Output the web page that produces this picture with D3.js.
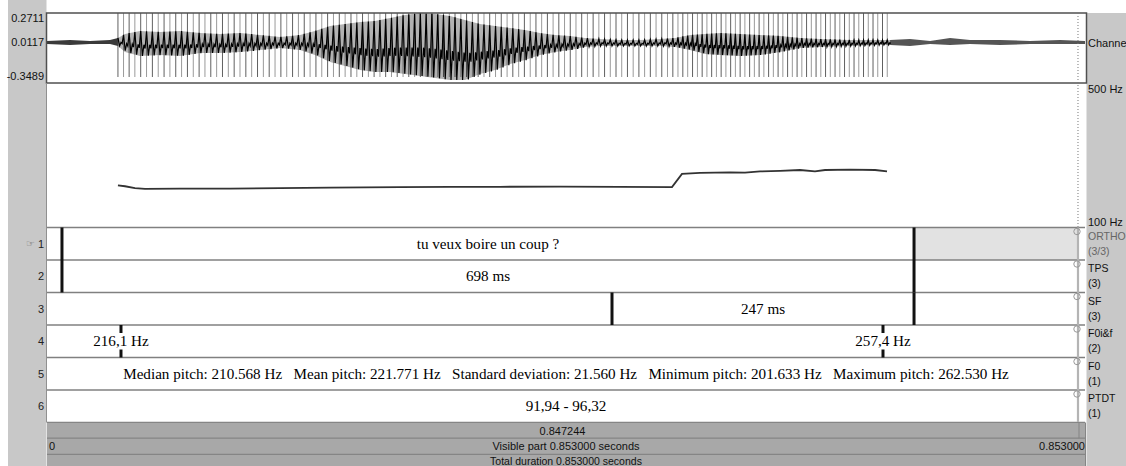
<!DOCTYPE html>
<html><head><meta charset="utf-8">
<script src="https://cdn.jsdelivr.net/npm/d3@7"></script>
<style>body{margin:0;background:#fff}svg{display:block}text{white-space:pre}</style>
</head><body><svg id="c" width="1126" height="466"></svg>
<script>
// ---------------- data ----------------
const duration = 0.853;
const cursorTime = 0.847244;
const ampTicks = [0.2711, 0.0117, -0.3489];
const ampTickLabels = ["0.2711", "0.0117", "-0.3489"];
const pitchRange = [100, 500];
const pitchTickLabels = ["500 Hz", "100 Hz"];
const channelLabel = "Channel 1";

// pitch contour (s, Hz)
const pitchTimes = [0.0583,0.0641,0.0723,0.0805,0.1093,0.1504,0.1915,0.2326,0.2901,0.3312,0.3723,0.4216,0.4709,0.5136,0.5218,0.5366,0.5613,0.5736,0.5860,0.6024,0.6188,0.6311,0.6394,0.6599,0.6805,0.6903];
const pitchHz    = [217.5,215.0,209.7,207.5,208.3,208.3,209.7,211.0,212.5,213.0,213.5,213.9,213.5,212.5,249.2,252.0,253.6,252.8,256.4,258.0,260.3,256.4,260.3,261.1,260.3,256.4];

// glottal pulses (ms)
const pulseMs = [58.3,62.9,67.5,72.2,77.0,81.8,86.6,91.4,96.2,101.0,105.8,110.6,115.4,120.2,125.0,129.8,134.6,139.4,144.2,149.0,153.8,158.6,163.4,168.2,173.0,177.8,182.6,187.4,192.2,197.0,201.8,206.6,211.4,216.2,221.0,225.8,230.6,235.4,240.2,245.0,249.8,
254.6,259.3,264.1,268.8,273.6,278.3,283.1,287.8,292.6,297.3,302.1,306.8,311.6,316.3,321.1,325.8,330.6,335.3,340.1,344.8,349.6,354.3,359.1,363.8,368.6,373.3,378.1,382.8,387.6,392.3,397.1,401.8,
406.5,411.2,415.9,420.6,425.3,430.0,434.7,439.4,444.1,448.8,453.5,458.2,462.9,467.6,472.3,477.0,481.7,486.4,491.1,495.8,500.5,505.2,509.9,514.3,518.5,522.5,
526.5,530.5,534.5,538.4,542.3,546.2,550.1,554.0,557.9,561.8,565.7,569.6,573.5,577.4,581.3,585.2,589.1,593.0,596.9,600.8,604.7,608.6,612.5,616.4,620.3,624.2,628.1,632.0,635.9,639.8,643.7,647.6,651.5,655.4,659.3,663.2,667.1,671.0,674.9,678.8,682.7,686.6,690.5];

// waveform envelope (s, max amplitude, min amplitude)
const envTimes = [0,0.0189,0.0353,0.0518,0.0583,0.0641,0.0764,0.0929,0.1093,0.1257,0.1422,0.1586,0.1750,0.1915,0.2079,0.2202,0.2326,0.2449,0.2572,0.2695,0.2819,0.2942,0.3065,0.3189,0.3312,0.3435,0.3558,0.3682,0.3805,0.3928,0.4051,0.4175,0.4298,0.4421,0.4545,0.4709,0.4873,0.5038,0.5161,0.5284,0.5407,0.5531,0.5695,0.5859,0.6024,0.6188,0.6353,0.6599,0.6846,0.6928,0.7092,0.7257,0.7421,0.7585,0.7832,0.8078,0.8325,0.853];
const envHigh = [0.0231,0.0320,0.0231,0.0320,0.0497,0.0851,0.1117,0.1028,0.1117,0.0940,0.0851,0.0940,0.0763,0.0585,0.0763,0.1117,0.1560,0.1737,0.1914,0.2002,0.2268,0.2534,0.2711,0.2622,0.2445,0.2091,0.1737,0.1560,0.1382,0.1205,0.0940,0.0763,0.0674,0.0497,0.0408,0.0320,0.0320,0.0408,0.0497,0.0763,0.0851,0.0940,0.0851,0.0763,0.0674,0.0497,0.0408,0.0320,0.0320,0.0320,0.0408,0.0231,0.0497,0.0320,0.0320,0.0231,0.0320,0.0231];
const envLow  = [-0.0034,-0.0123,-0.0034,-0.0034,-0.0211,-0.0743,-0.1097,-0.1009,-0.1097,-0.0832,-0.0832,-0.0743,-0.0566,-0.0389,-0.0566,-0.1009,-0.1629,-0.1983,-0.2337,-0.2515,-0.2515,-0.2692,-0.2869,-0.3046,-0.3223,-0.3223,-0.2692,-0.2337,-0.1806,-0.1452,-0.1009,-0.0743,-0.0566,-0.0300,-0.0211,-0.0211,-0.0211,-0.0211,-0.0300,-0.0566,-0.0920,-0.1009,-0.1097,-0.1009,-0.0743,-0.0389,-0.0300,-0.0211,-0.0123,-0.0123,-0.0211,-0.0034,-0.0123,-0.0034,-0.0123,-0.0034,-0.0034,-0.0034];

// tiers
const tierNames  = ["ORTHO", "TPS", "SF", "F0i&f", "F0", "PTDT"];
const tierCounts = ["(3/3)", "(3)", "(3)", "(2)", "(1)", "(1)"];
const orthoBounds = [0.0123, 0.7125];
const orthoTexts  = ["", "tu veux boire un coup ?", ""];
const tpsBounds   = [0.0123, 0.7125];
const tpsTexts    = ["", "698 ms", ""];
const sfBounds    = [0.4643, 0.7125];
const sfTexts     = ["", "247 ms", ""];
const f0ifPoints  = [0.0608, 0.6870];
const f0ifTexts   = ["216,1 Hz", "257,4 Hz"];
const f0Texts     = ["Median pitch: 210.568 Hz   Mean pitch: 221.771 Hz   Standard deviation: 21.560 Hz   Minimum pitch: 201.633 Hz   Maximum pitch: 262.530 Hz"];
const ptdtTexts   = ["91,94 - 96,32"];
const selectedInterval = [0.7125, cursorTime];

const barTexts = ["0.847244", "Visible part 0.853000 seconds", "Total duration 0.853000 seconds"];
const visibleStart = "0", visibleEnd = "0.853000";

// ---------------- layout ----------------
const svg = d3.select("#c");
const X0 = 47, X1 = 1085;
const WT = 13, WB = 83, PT = 84;
const TT = 227.5, TH = 32.5, NT = 6;
const tierTop = i => TT + i * TH;
const BARS = [422.5, 438.2, 454.3, 466];
const sans = "'Liberation Sans', Arial, sans-serif";
const serif = "'Liberation Serif', 'Times New Roman', serif";
const TFS = 15.15;

const x = d3.scaleLinear().domain([0, duration]).range([X0, X1]);
const yA = d3.scaleLinear().domain([ampTicks[2], ampTicks[0]]).range([WB, WT]);
const yP = d3.scaleLinear().domain(pitchRange).range([TT, PT]);
const envHiScale = d3.scaleLinear().domain(envTimes).range(envHigh);
const envLoScale = d3.scaleLinear().domain(envTimes).range(envLow);

// background / margins
svg.append("rect").attr("x",0).attr("y",0).attr("width",1126).attr("height",466).attr("fill","#fff");
svg.append("rect").attr("x",8).attr("y",0).attr("width",38.5).attr("height",466).attr("fill","#c8c8c8");
svg.append("rect").attr("x",1086.5).attr("y",WT).attr("width",40).attr("height",466-WT).attr("fill","#c8c8c8");

// ---- waveform panel ----
const pulses = pulseMs.map(d => d / 1000);
const firstP = pulses[0], lastP = pulses[pulses.length - 1];
svg.append("g").selectAll("line").data(pulses).join("line")
  .attr("x1", d => x(d)).attr("x2", d => x(d))
  .attr("y1", WT).attr("y2", 77)
  .attr("stroke", (d, i) => i % 2 ? "#9a9a9a" : "#606060").attr("stroke-width", 1);

const idx = d3.range(envTimes.length);
const area = d3.area()
  .x(i => x(envTimes[i]))
  .y0(i => yA(envLow[i]))
  .y1(i => yA(envHigh[i]));
// unvoiced stretches: thin noise band
svg.append("path").datum(idx.filter(i => envTimes[i] <= firstP + 0.001)).attr("d", area)
  .attr("fill", "#3a3a3a");
svg.append("path").datum(idx.filter(i => envTimes[i] >= lastP - 0.002)).attr("d", area)
  .attr("fill", "#555");
// voiced stretch: faint band
svg.append("path").datum(idx.filter(i => envTimes[i] >= firstP - 0.006 && envTimes[i] <= lastP + 0.003)).attr("d", area)
  .attr("fill", "#000").attr("fill-opacity", 0.3);

// waveform trace in the voiced part: a peak at each pulse, trough inside each period
const trace = [];
pulses.forEach((t, i) => {
  const next = i < pulses.length - 1 ? pulses[i + 1] : t + 0.0039;
  const p = next - t;
  const hi = envHiScale(t), lo = envLoScale(t);
  trace.push([t, hi]);
  trace.push([t + p * 0.3, lo]);
  trace.push([t + p * 0.55, hi * 0.45 + lo * 0.55]);
  trace.push([t + p * 0.75, lo * 0.7 + hi * 0.3]);
});
svg.append("path").datum(trace)
  .attr("d", d3.line().x(d => x(d[0])).y(d => yA(d[1])))
  .attr("fill", "none").attr("stroke", "#000").attr("stroke-width", 1.2);

svg.append("rect").attr("x", 46.5).attr("y", WT).attr("width", 1086.5-46.5).attr("height", WB-WT)
  .attr("fill", "none").attr("stroke", "#505050").attr("stroke-width", 1.5);

// amplitude labels
svg.append("g").selectAll("text").data(ampTicks).join("text")
  .attr("x", 44).attr("y", d => yA(d))
  .attr("dy", (d, i) => i === 0 ? "9" : (i === 2 ? "-3" : "4"))
  .attr("text-anchor", "end").attr("font-family", sans).attr("font-size", 11).attr("fill", "#111")
  .text((d, i) => ampTickLabels[i]);
svg.append("text").attr("x", 1088).attr("y", yA(ampTicks[1]) + 5)
  .attr("font-family", sans).attr("font-size", 11).attr("fill", "#111").text(channelLabel);

// ---- pitch panel ----
svg.append("path").datum(pitchTimes)
  .attr("d", d3.line().x((d, i) => x(pitchTimes[i])).y((d, i) => yP(pitchHz[i])))
  .attr("fill", "none").attr("stroke", "#333").attr("stroke-width", 1.8);
svg.append("text").attr("x", 1088).attr("y", yP(pitchRange[1]) + 9)
  .attr("font-family", sans).attr("font-size", 11).attr("fill", "#111").text(pitchTickLabels[0]);
svg.append("text").attr("x", 1088).attr("y", yP(pitchRange[0]) - 2)
  .attr("font-family", sans).attr("font-size", 11).attr("fill", "#111").text(pitchTickLabels[1]);

// cursor dotted line
svg.append("line").attr("x1", x(cursorTime)).attr("x2", x(cursorTime)).attr("y1", WT).attr("y2", TT)
  .attr("stroke", "#777").attr("stroke-dasharray", "1,2");

// ---- tiers ----
svg.append("rect").attr("x", x(selectedInterval[0])).attr("y", tierTop(0))
  .attr("width", x(selectedInterval[1]) - x(selectedInterval[0])).attr("height", TH)
  .attr("fill", "#e2e2e2");

const tiersG = svg.append("g");
d3.range(NT + 1).forEach(i => {
  tiersG.append("line").attr("x1", X0).attr("x2", X1).attr("y1", tierTop(i)).attr("y2", tierTop(i))
    .attr("stroke", "#808080").attr("stroke-width", 1.3);
});
svg.append("line").attr("x1", 46.5).attr("x2", 46.5).attr("y1", WB).attr("y2", BARS[0])
  .attr("stroke", "#909090").attr("stroke-width", 1);

// cursor bar in tiers
svg.append("line").attr("x1", x(cursorTime)).attr("x2", x(cursorTime)).attr("y1", TT).attr("y2", BARS[1])
  .attr("stroke", "#b4b4b4").attr("stroke-width", 2.2);

function intervalTier(i, bounds, texts) {
  const edges = [0, ...bounds, duration];
  const g = svg.append("g");
  g.selectAll("text").data(texts).join("text")
    .attr("x", (d, k) => (x(edges[k]) + x(edges[k + 1])) / 2)
    .attr("y", tierTop(i) + TH / 2 + 5)
    .attr("text-anchor", "middle").attr("font-family", serif).attr("font-size", TFS).attr("fill", "#000")
    .text(d => d);
}
function boundaries(bounds, fromTier, toTierList) {
  svg.append("g").selectAll("line").data(bounds).join("line")
    .attr("x1", d => x(d)).attr("x2", d => x(d))
    .attr("y1", tierTop(fromTier)).attr("y2", (d, k) => tierTop(toTierList[k]))
    .attr("stroke", "#111").attr("stroke-width", 3);
}
intervalTier(0, orthoBounds, orthoTexts);
intervalTier(1, tpsBounds, tpsTexts);
intervalTier(2, sfBounds, sfTexts);
intervalTier(4, [], f0Texts);
intervalTier(5, [], ptdtTexts);
boundaries(orthoBounds, 0, [1, 1]);
boundaries(tpsBounds, 1, [2, 2]);
boundaries(sfBounds, 2, [3, 3]);

// point tier
const pg = svg.append("g");
pg.selectAll("line.top").data(f0ifPoints).join("line").attr("class", "top")
  .attr("x1", d => x(d)).attr("x2", d => x(d)).attr("y1", tierTop(3)).attr("y2", tierTop(3) + 8)
  .attr("stroke", "#111").attr("stroke-width", 3);
pg.selectAll("line.bot").data(f0ifPoints).join("line").attr("class", "bot")
  .attr("x1", d => x(d)).attr("x2", d => x(d)).attr("y1", tierTop(4) - 8).attr("y2", tierTop(4))
  .attr("stroke", "#111").attr("stroke-width", 3);
pg.selectAll("text").data(f0ifPoints).join("text")
  .attr("x", d => x(d)).attr("y", tierTop(3) + TH / 2 + 5)
  .attr("text-anchor", "middle").attr("font-family", serif).attr("font-size", TFS).attr("fill", "#000")
  .text((d, k) => f0ifTexts[k]);

// tier circles and names
svg.append("g").selectAll("circle").data(tierNames).join("circle")
  .attr("cx", x(cursorTime) - 1).attr("cy", (d, i) => tierTop(i) + 4).attr("r", 3.2)
  .attr("fill", "none").attr("stroke", "#999").attr("stroke-width", 1);
svg.append("g").selectAll("text").data(tierNames).join("text")
  .attr("x", 1088).attr("y", (d, i) => tierTop(i) + 12)
  .attr("font-family", sans).attr("font-size", 10.5).attr("fill", (d, i) => i === 0 ? "#666" : "#111")
  .text(d => d);
svg.append("g").selectAll("text").data(tierCounts).join("text")
  .attr("x", 1088).attr("y", (d, i) => tierTop(i) + 27)
  .attr("font-family", sans).attr("font-size", 10.5).attr("fill", (d, i) => i === 0 ? "#666" : "#111")
  .text(d => d);
svg.append("g").selectAll("text").data(tierNames).join("text")
  .attr("x", 44).attr("y", (d, i) => tierTop(i) + TH / 2 + 4)
  .attr("text-anchor", "end").attr("font-family", sans).attr("font-size", 11).attr("fill", "#222")
  .text((d, i) => String(i + 1));
svg.append("text").attr("x", 35).attr("y", tierTop(0) + TH / 2 + 3)
  .attr("text-anchor", "end").attr("font-family", "'DejaVu Sans', sans-serif").attr("font-size", 10).attr("fill", "#777")
  .text("☞");

// ---- bottom bars ----
svg.append("rect").attr("x", X0).attr("y", BARS[0]).attr("width", X1 - X0).attr("height", 466 - BARS[0])
  .attr("fill", "#a8a8a8");
[BARS[0], BARS[1], BARS[2]].forEach(yb => {
  svg.append("line").attr("x1", X0).attr("x2", X1).attr("y1", yb).attr("y2", yb).attr("stroke", "#858585").attr("stroke-width", 1.2);
});
svg.append("line").attr("x1", X1 + 0.5).attr("x2", X1 + 0.5).attr("y1", BARS[0]).attr("y2", 466).attr("stroke", "#858585");
svg.append("line").attr("x1", x(cursorTime) + 1).attr("x2", x(cursorTime) + 1).attr("y1", BARS[0]).attr("y2", BARS[1]).attr("stroke", "#858585");
svg.append("text").attr("x", (X0 + x(cursorTime)) / 2).attr("y", BARS[0] + 12)
  .attr("text-anchor", "middle").attr("font-family", sans).attr("font-size", 11).attr("fill", "#111").text(barTexts[0]);
svg.append("text").attr("x", (X0 + X1) / 2).attr("y", BARS[1] + 12)
  .attr("text-anchor", "middle").attr("font-family", sans).attr("font-size", 11).attr("fill", "#111").text(barTexts[1]);
svg.append("text").attr("x", X0 + 2).attr("y", BARS[1] + 12)
  .attr("font-family", sans).attr("font-size", 11).attr("fill", "#111").text(visibleStart);
svg.append("text").attr("x", X1).attr("y", BARS[1] + 12)
  .attr("text-anchor", "end").attr("font-family", sans).attr("font-size", 11).attr("fill", "#111").text(visibleEnd);
svg.append("text").attr("x", (X0 + X1) / 2).attr("y", 465)
  .attr("text-anchor", "middle").attr("font-family", sans).attr("font-size", 10.5).attr("fill", "#111").text(barTexts[2]);
</script>
</body></html>
